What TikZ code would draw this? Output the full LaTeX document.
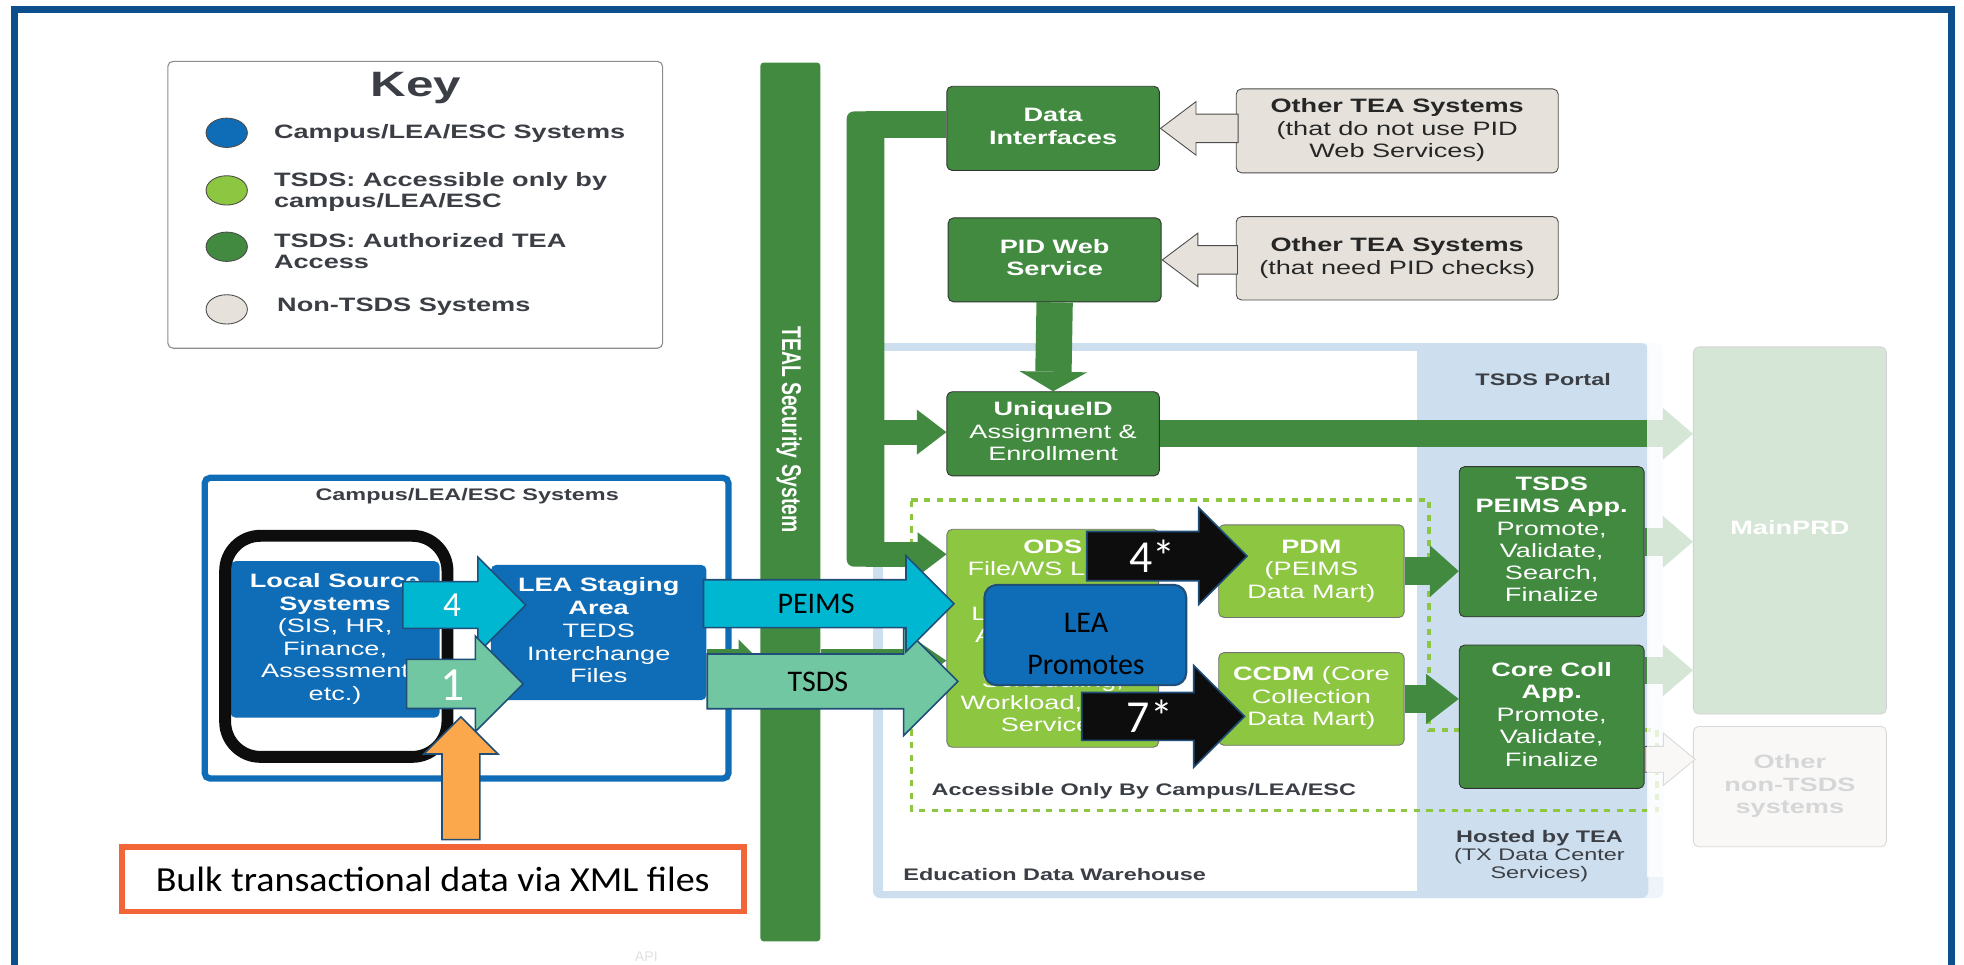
\documentclass[tikz,border=0pt]{standalone}
\usepackage{fontspec}
\setmainfont{Liberation Sans}
\newfontfamily\calib{Carlito}
\usepackage{graphicx}
\usetikzlibrary{positioning}
\usetikzlibrary{arrows.meta}
\usetikzlibrary{shapes.arrows,shapes.geometric}

\definecolor{frameblue}{HTML}{0C4F8C}
\definecolor{keytext}{HTML}{3B3F45}
\definecolor{ltgreen}{HTML}{8DC641}
\definecolor{dkgreen}{HTML}{418A3F}
\definecolor{nongray}{HTML}{E6E2DB}
\definecolor{campblue}{HTML}{0F6CB6}
\definecolor{cyanA}{HTML}{00B7D1}
\definecolor{seaA}{HTML}{72C7A3}
\definecolor{orangeA}{HTML}{FBA74C}
\definecolor{bulkred}{HTML}{F26539}
\definecolor{edgeblue}{HTML}{1F4E79}
\definecolor{edwblue}{HTML}{CDDFEE}
\definecolor{edwlight}{HTML}{EEF4FA}
\definecolor{blk}{HTML}{0D0D0D}

% widened lines of box text
\newcommand{\stx}[2][c]{\scalebox{1.4}[1]{\begin{tabular}{@{}#1@{}}#2\end{tabular}}}

\tikzset{
  lucid/.style={rounded corners=3pt, inner sep=0pt, line width=0.5pt, font=\fontsize{11}{12.8}\selectfont},
  dkbox/.style={lucid, draw=black!80, fill=dkgreen, text=white},
  ltbox/.style={lucid, draw=black!55, fill=ltgreen, text=white},
  graybox/.style={lucid, draw=black!70, fill=nongray, text=black!85},
  bluebox/.style={lucid, fill=campblue, text=white},
  keydot/.style={ellipse, draw=black!70, line width=0.5pt, minimum width=0.825cm, minimum height=0.585cm, inner sep=0pt},
  keytxt/.style={anchor=west, inner sep=0pt, text=keytext, font=\bfseries\fontsize{11}{12.1}\selectfont},
  smalltitle/.style={inner sep=0pt, text=keytext, font=\bfseries\fontsize{9.5}{10.4}\selectfont},
  gconn/.style n args={3}{draw=dkgreen, line width=#1, -{Triangle[length=#2, width=#3, line width=0pt]}},
  grayarr/.style={single arrow, draw=black!70, fill=nongray, line width=0.5pt, inner xsep=0pt},
  ovarrow/.style={single arrow, anchor=tail, draw=edgeblue, line width=0.9pt, inner xsep=0pt, single arrow tip angle=90},
  ovtxt/.style={inner sep=0pt, font=\calib\fontsize{17}{20}\selectfont}
}

\begin{document}
\begin{tikzpicture}[x=0.025cm, y=-0.025cm]
  \useasboundingbox (0,0) rectangle (1568,770);
  \clip (0,0) rectangle (1568,770);
  \draw[frameblue, line width=0.1325cm] (11.6,7.5) rectangle (1558,790);

  % key
  \node[draw=black!45, line width=0.6pt, rounded corners=3pt, fill=white, minimum width=9.875cm, minimum height=5.725cm] (keybox) at (331.5,163.5) {};
  \node[text=keytext, font=\bfseries\fontsize{20}{24}\selectfont, inner sep=0pt] (keyt) at (332,70) {\scalebox{1.4}[1]{Key}};
  \node[keydot, fill=campblue] (kd1) at (181,106) {};
  \node[keydot, fill=ltgreen] (kd2) at (181,152) {};
  \node[keydot, fill=dkgreen] (kd3) at (181,197) {};
  \node[keydot, fill=nongray] (kd4) at (181,247) {};
  \node[keytxt] (kt1) at (218.5,107) {\stx[l]{Campus/LEA/ESC Systems}};
  \node[keytxt] (kt2) at (218.5,154) {\stx[l]{TSDS: Accessible only by\\campus/LEA/ESC}};
  \node[keytxt] (kt3) at (218.5,202.5) {\stx[l]{TSDS: Authorized TEA\\Access}};
  \node[keytxt] (kt4) at (221,245.5) {\stx[l]{Non-TSDS Systems}};

  % education data warehouse and portal
  \fill[edwlight, rounded corners=4pt] (697,274) rectangle (1328,717);
  \fill[edwblue, rounded corners=4pt] (697,274) rectangle (1316,717);
  \fill[white] (705,280) rectangle (1131,711);
  \draw[ltgreen, line width=2pt, dash pattern=on 3.6pt off 3.6pt] (727.6,399) -- (1141,399) -- (1141,583) -- (1323,583) -- (1323,647) -- (727.6,647) -- cycle;
  \node[smalltitle] (portalt) at (1232,305) {\stx{TSDS Portal}};
  \node[smalltitle, anchor=west] (acct) at (743.5,632) {\stx{Accessible Only By Campus/LEA/ESC}};
  \node[smalltitle, anchor=west] (edwt) at (721,700) {\stx{Education Data Warehouse}};
  \node[smalltitle, font=\fontsize{9.5}{10.4}\selectfont] (hostt) at (1229,684) {\stx{\textbf{Hosted by TEA}\\(TX Data Center\\Services)}};

  % security bar
  \node[fill=dkgreen, rounded corners=2pt, minimum width=1.2cm, minimum height=17.5375cm, inner sep=0pt] (teal) at (631,400.75) {};
  \node[rotate=-90, text=white, font=\bfseries\fontsize{11}{13}\selectfont, inner sep=0pt] (tealt) at (630,343) {\scalebox{1}[1.4]{TEAL Security System}};

  % bus to the TEA side
  \fill[dkgreen, rounded corners=4pt] (676,89) rectangle (706,452.4);
  \coordinate (trunkT) at (691,99.75);
  \coordinate (trunkU) at (691,345);
  \coordinate (trunkB) at (691,442.5);
  \coordinate (lg) at (0,527.5);

  \node[dkbox, minimum width=4.24cm, minimum height=1.68cm] (dataif) at (840.75,102.5) {\stx{\textbf{Data}\\\textbf{Interfaces}}};
  \node[graybox, minimum width=6.425cm, minimum height=1.675cm] (other1) at (1115.5,104.5) {\stx{\textbf{Other TEA Systems}\\(that do not use PID\\Web Services)}};
  \node[dkbox, minimum width=4.25cm, minimum height=1.675cm] (pid) at (842,207.5) {\stx{\textbf{PID Web}\\\textbf{Service}}};
  \node[graybox, minimum width=6.425cm, minimum height=1.6625cm] (other2) at (1115.5,206.25) {\stx{\textbf{Other TEA Systems}\\(that need PID checks)}};
  \node[dkbox, minimum width=4.24cm, minimum height=1.68cm] (uniq) at (840.75,346.35) {\stx{\textbf{UniqueID}\\Assignment \&\\Enrollment}};
  \node[ltbox, minimum width=4.225cm, minimum height=4.35cm, font=\fontsize{11}{12.66}\selectfont] (ods) at (840.5,509.6) {\stx{\textbf{ODS}\\File/WS Load,\\Validation,\\Level 1 Edits,\\Assessment,\\Enrollment,\\Scheduling,\\Workload, Staff\\Services}};
  \node[ltbox, minimum width=3.7cm, minimum height=1.85cm] (pdm) at (1047,456) {\stx{\textbf{PDM}\\(PEIMS\\Data Mart)}};
  \node[ltbox, minimum width=3.7cm, minimum height=1.85cm] (ccdm) at (1047,558) {\stx{\textbf{CCDM} (Core\\Collection\\Data Mart)}};
  \node[dkbox, minimum width=3.69cm, minimum height=2.995cm, font=\fontsize{11}{12.66}\selectfont] (peimsapp) at (1238.8,432.5) {\stx{\textbf{TSDS}\\\textbf{PEIMS App.}\\Promote,\\Validate,\\Search,\\Finalize}};
  \node[dkbox, minimum width=3.69cm, minimum height=2.86cm] (corecoll) at (1238.8,572.2) {\stx{\textbf{Core Coll}\\\textbf{App.}\\Promote,\\Validate,\\Finalize}};
  \node[dkbox, minimum width=3.85cm, minimum height=7.325cm] (mainprd) at (1429,423.5) {\stx{\textbf{MainPRD}}};
  \node[graybox, text=keytext, minimum width=3.85cm, minimum height=2.4cm] (othernon) at (1429,628) {\stx{\textbf{Other}\\\textbf{non-TSDS}\\\textbf{systems}}};

  % connectors
  \draw[dkgreen, line width=0.5375cm] (trunkT) -- (trunkT -| dataif.west);
  \draw[gconn={0.5cm}{0.59cm}{0.9cm}] (trunkU) -- (trunkU -| uniq.west);
  \draw[gconn={0.5cm}{0.575cm}{0.875cm}] (trunkB) -- (trunkB -| ods.west);
  \draw[gconn={0.725cm}{0.39cm}{1.35cm}] (pid.south) -- (uniq.north);
  \draw[gconn={0.5375cm}{0.6cm}{1.03cm}] (uniq.east) -- (uniq.east -| mainprd.west);
  \draw[gconn={0.565cm}{0.575cm}{1.03cm}] (pdm.east) -- (pdm.east -| peimsapp.west);
  \draw[gconn={0.565cm}{0.65cm}{1.0cm}] (ccdm.east) -- (ccdm.east -| corecoll.west);
  \draw[gconn={0.55cm}{0.6cm}{1.03cm}] (peimsapp.east) -- (peimsapp.east -| mainprd.west);
  \coordinate (ccm) at ([yshift=0.925cm]corecoll.east);
  \draw[gconn={0.55cm}{0.6cm}{1.03cm}] (ccm) -- (ccm -| mainprd.west);
  \node[grayarr, anchor=tip, shape border rotate=180, inner ysep=0.275cm, minimum width=1.05cm, minimum height=1.55cm, single arrow head extend=0.25cm, single arrow tip angle=74] (ga1) at (dataif.east) {};
  \node[grayarr, anchor=tip, shape border rotate=180, inner ysep=0.275cm, minimum width=1.05cm, minimum height=1.5cm, single arrow head extend=0.25cm, single arrow tip angle=74] (ga2) at (pid.east) {};
  \node[grayarr, anchor=tail, inner ysep=0.25cm, minimum width=1.025cm, minimum height=1.0cm, single arrow head extend=0.2625cm, single arrow tip angle=79] (ga3) at ([yshift=-0.85cm]corecoll.east) {};

  % faded right part
  \fill[white, fill opacity=0.79] (1315,262) rectangle (1530,700);

  % campus side
  \node[draw=campblue, line width=0.125cm, fill=white, rounded corners=3pt, minimum width=10.45cm, minimum height=6.0cm] (campus) at (372.5,501.5) {};
  \node[smalltitle] (campt) at (373,397) {\stx{Campus/LEA/ESC Systems}};
  \node[bluebox, minimum width=4.175cm, minimum height=3.125cm] (local) at (267.5,510.5) {\stx{\textbf{Local Source}\\\textbf{Systems}\\(SIS, HR,\\Finance,\\Assessment\\etc.)}};
  \node[bluebox, minimum width=4.3cm, minimum height=2.7cm, font=\fontsize{11}{13}\selectfont] (staging) at (478,505) {\stx{\textbf{LEA Staging}\\\textbf{Area}\\TEDS\\Interchange\\Files}};
  \draw[gconn={0.475cm}{0.425cm}{0.85cm}] (staging.east |- lg) -- (teal.west |- lg);
  \draw[gconn={0.475cm}{0.625cm}{0.85cm}] (teal.east |- lg) -- (ods.west |- lg);
  \draw[black!95, line width=0.2375cm, rounded corners=20pt] (179.75,427.75) rectangle (357.25,604.25);

  % added call-outs
  \node[draw=bulkred, line width=0.1125cm, fill=white, minimum width=12.4125cm, minimum height=1.2875cm, font=\calib\fontsize{20}{24}\selectfont] (bulk) at (345.5,702) {\scalebox{1.08}[1]{Bulk transactional data via XML files}};
  \node[ovarrow, fill=cyanA, inner ysep=0.45cm, minimum height=2.45cm, minimum width=1.875cm, single arrow head extend=0.4875cm] (a4) at (321,483) {};
  \node[ovarrow, fill=seaA, inner ysep=0.475cm, minimum height=2.325cm, minimum width=1.875cm, single arrow head extend=0.4625cm] (a1) at (324,546) {};
  \node[ovarrow, fill=orangeA, shape border rotate=90, inner xsep=0.3625cm, inner ysep=0pt, minimum height=2.45cm, minimum width=1.45cm, single arrow head extend=0.3625cm] (aup) at (368,671) {};
  \node[ovarrow, fill=seaA, inner ysep=0.53cm, minimum height=5cm, minimum width=2.135cm, single arrow head extend=0.536cm] (atsds) at (564,544) {};
  \node[ovarrow, fill=cyanA, inner ysep=0.4625cm, minimum height=5cm, minimum width=1.8875cm, single arrow head extend=0.48cm] (apeims) at (561,482) {};
  \node[ovarrow, fill=blk, inner ysep=0.475cm, minimum height=3.2cm, minimum width=1.9cm, single arrow head extend=0.475cm] (a4s) at (867,444) {};
  \node[ovarrow, fill=blk, inner ysep=0.4625cm, minimum height=3.25cm, minimum width=2.0cm, single arrow head extend=0.5375cm] (a7s) at (863,572) {};
  \node[fill=campblue, draw=edgeblue, line width=1.2pt, rounded corners=7pt, minimum width=4.025cm, minimum height=2cm] (promo) at (866.5,507) {};
  \node[align=center, inner sep=0pt, font=\calib\fontsize{17}{23.8}\selectfont] (promot) at (867,514) {LEA\\Promotes};
  \node[ovtxt, text=white, font=\calib\fontsize{20}{24}\selectfont] (t4) at (361,483) {4};
  \node[ovtxt, text=white, font=\calib\fontsize{27}{30}\selectfont] (t1) at (361,547) {1};
  \node[ovtxt] (tpeims) at (651.5,482) {PEIMS};
  \node[ovtxt] (ttsds) at (653,544) {TSDS};
  \node[ovtxt, text=white, font=\calib\fontsize{26}{30}\selectfont] (t4s) at (920,444) {4*};
  \node[ovtxt, text=white, font=\calib\fontsize{26}{30}\selectfont] (t7s) at (918,572) {7*};
  \node[text=black!12, font=\fontsize{8}{9}\selectfont, inner sep=0pt] (apit) at (516,764) {API};
\end{tikzpicture}
\end{document}
